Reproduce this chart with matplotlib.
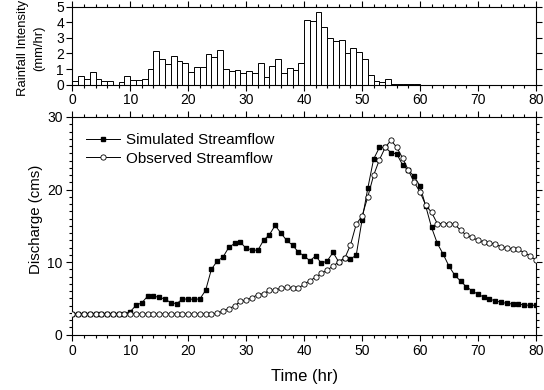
import numpy as np
import matplotlib
matplotlib.use('Agg')
import matplotlib.pyplot as plt
from matplotlib.ticker import MultipleLocator

plt.rcParams['font.family'] = ['Liberation Sans', 'DejaVu Sans']

# hourly rainfall intensity (mm/hr), bar from hour h to h+1
rain = [0.25, 0.57, 0.38, 0.79, 0.34, 0.25, 0.23, 0.0, 0.17, 0.53,
        0.30, 0.30, 0.34, 0.98, 2.13, 1.64, 1.32, 1.85, 1.53, 1.40,
        0.80, 1.10, 1.15, 1.94, 1.80, 2.20, 0.98, 0.87, 0.96, 0.72,
        0.85, 0.77, 1.36, 0.49, 1.17, 1.62, 0.72, 1.08, 0.96, 1.36,
        4.13, 4.08, 4.66, 3.70, 2.96, 2.79, 2.83, 2.04, 2.32, 2.10,
        1.64, 0.62, 0.26, 0.19, 0.36, 0.06, 0.03, 0.03, 0.02, 0.02]
rain_hours = np.arange(len(rain))

# discharge (cms), hours 0..80
hours = np.arange(81)
simulated = [2.85, 2.85, 2.85, 2.85, 2.85, 2.85, 2.85, 2.85, 2.85, 2.85,
             3.17, 4.04, 4.40, 5.30, 5.30, 5.14, 4.90, 4.40, 4.27, 4.90,
             4.90, 4.87, 4.91, 6.10, 9.00, 10.14, 10.69, 12.02, 12.57, 12.75,
             11.88, 11.70, 11.60, 13.00, 13.76, 15.05, 14.00, 12.98, 12.34, 11.38,
             10.85, 10.18, 10.85, 9.82, 10.18, 11.33, 10.00, 10.60, 10.41, 10.96,
             15.80, 20.20, 24.20, 25.80, 25.80, 25.10, 24.90, 23.40, 22.65, 21.80,
             20.50, 17.70, 14.77, 12.57, 11.10, 9.45, 8.20, 7.39, 6.60, 6.05,
             5.55, 5.19, 4.87, 4.68, 4.45, 4.31, 4.22, 4.22, 4.08, 4.04,
             4.04]
observed = [2.85, 2.85, 2.85, 2.85, 2.85, 2.85, 2.85, 2.85, 2.85, 2.85,
            2.85, 2.85, 2.85, 2.85, 2.85, 2.85, 2.85, 2.85, 2.85, 2.85,
            2.85, 2.85, 2.85, 2.85, 2.85, 2.94, 3.26, 3.58, 3.95, 4.59,
            4.73, 5.10, 5.50, 5.64, 6.10, 6.15, 6.38, 6.52, 6.42, 6.38,
            6.95, 7.45, 7.90, 8.44, 8.90, 9.45, 10.04, 10.50, 12.34, 15.23,
            16.33, 19.00, 21.97, 24.10, 25.80, 26.80, 25.80, 24.35, 22.65, 21.00,
            19.67, 17.84, 16.85, 15.30, 15.30, 15.30, 15.20, 14.40, 13.70, 13.40,
            13.00, 12.80, 12.65, 12.47, 12.10, 11.97, 11.78, 11.75, 11.28, 10.87,
            10.27]

fig = plt.figure(figsize=(5.44, 3.9), dpi=100)

# Rainfall hyetograph
ax1 = fig.add_axes([0.133, 0.783, 0.852, 0.200])
ax1.bar(rain_hours, rain, width=1.0, align='edge', color='white',
        edgecolor='black', linewidth=0.7)
ax1.set_xlim(0, 80)
ax1.set_ylim(0, 5)
ax1.xaxis.set_major_locator(MultipleLocator(10))
ax1.xaxis.set_minor_locator(MultipleLocator(2))
ax1.yaxis.set_major_locator(MultipleLocator(1))
ax1.tick_params(axis='both', which='both', labelsize=10, width=0.8)
ax1.tick_params(axis='x', which='major', direction='out', length=4, pad=2)
ax1.tick_params(axis='x', which='minor', direction='out', length=2.5)
ax1.tick_params(axis='y', which='major', direction='out', length=4, pad=2)
ax1.tick_params(top=True, right=True, which='both')
ax1.set_ylabel('Rainfall Intensity\n(mm/hr)', fontsize=9.4, linespacing=1.5)
ax1.yaxis.set_label_coords(-0.058, 0.47)

# Streamflow
ax2 = fig.add_axes([0.133, 0.142, 0.852, 0.558])
ax2.plot(hours, simulated, color='black', linewidth=0.7, marker='s',
         markersize=3.2, markerfacecolor='black', markeredgecolor='black',
         label='Simulated Streamflow', zorder=2)
ax2.plot(hours, observed, color='black', linewidth=0.7, marker='o',
         markersize=3.8, markerfacecolor='white', markeredgecolor='black',
         markeredgewidth=0.6, label='Observed Streamflow', zorder=3)
ax2.set_xlim(0, 80)
ax2.set_ylim(0, 30)
ax2.xaxis.set_major_locator(MultipleLocator(10))
ax2.xaxis.set_minor_locator(MultipleLocator(2))
ax2.yaxis.set_major_locator(MultipleLocator(10))
ax2.yaxis.set_minor_locator(MultipleLocator(1))
ax2.tick_params(axis='both', which='both', labelsize=10, width=0.8)
ax2.tick_params(axis='both', which='major', direction='out', length=4, pad=3)
ax2.tick_params(axis='both', which='minor', direction='out', length=2.5)
ax2.tick_params(top=True, right=True, which='both')
ax2.set_xlabel('Time (hr)', fontsize=12, labelpad=8)
ax2.set_ylabel('Discharge (cms)', fontsize=10.8)
ax2.yaxis.set_label_coords(-0.063, 0.53)
ax2.legend(loc='upper left', frameon=False, fontsize=11, handlelength=2.2,
           handletextpad=0.4, borderaxespad=0.5, labelspacing=0.3,
           bbox_to_anchor=(0.0, 0.99))

for ax in (ax1, ax2):
    for s in ax.spines.values():
        s.set_linewidth(0.8)

fig.savefig('out.png', dpi=100)
